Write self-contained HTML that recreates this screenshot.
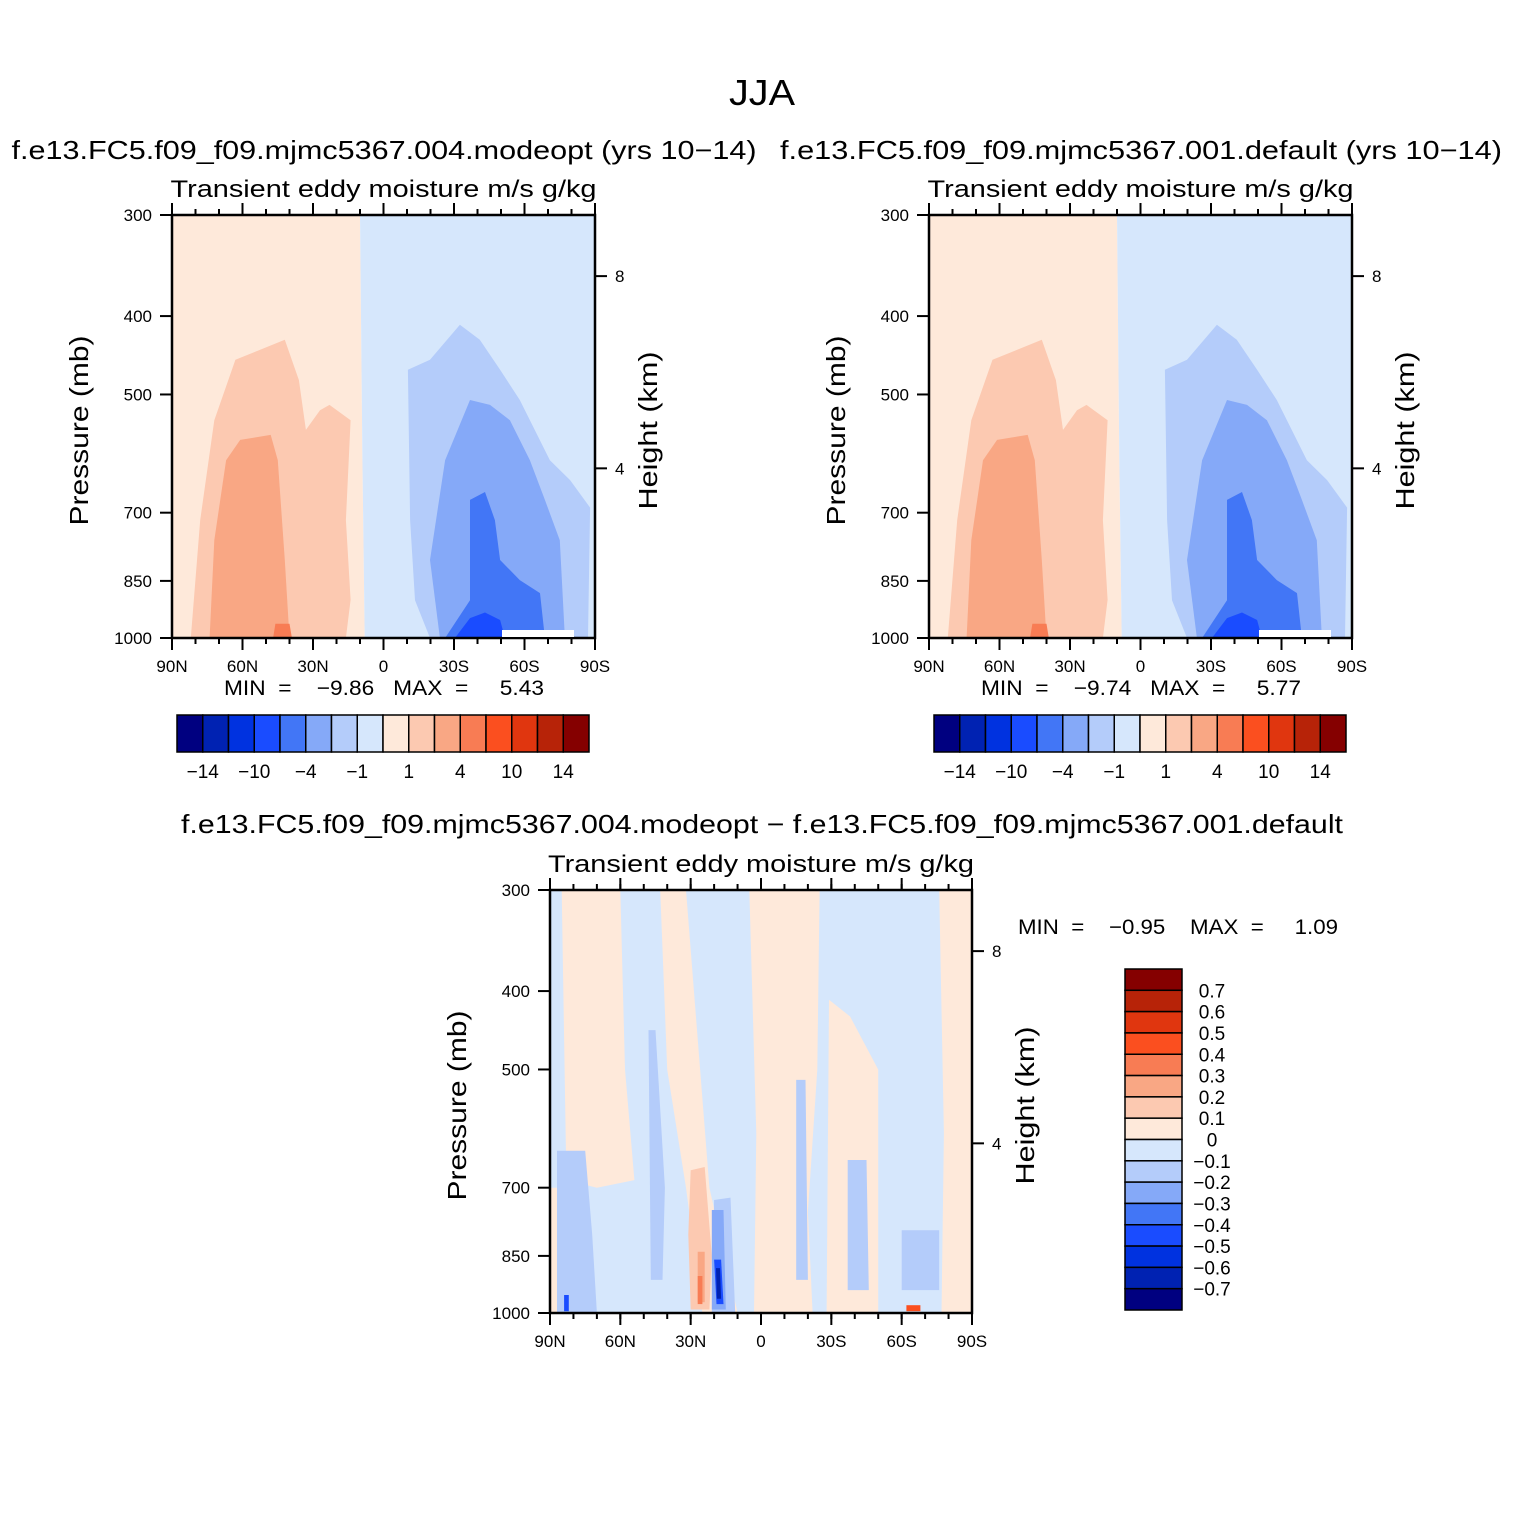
<!DOCTYPE html>
<html><head><meta charset="utf-8">
<style>
html,body{margin:0;padding:0;background:#fff;}
svg{display:block;font-family:"Liberation Sans",sans-serif;}
</style></head>
<body>
<svg id="fig" width="1524" height="1524" viewBox="0 0 1524 1524" xmlns="http://www.w3.org/2000/svg">
<rect width="1524" height="1524" fill="#fff"/>
<text x="762" y="105" font-size="36" text-anchor="middle" textLength="66" lengthAdjust="spacingAndGlyphs">JJA</text>
</svg>
<script>
// ---- data ----
const colors = ["#000080","#0022b2","#0032e0","#1a4cff","#4276f6","#85a9f8","#b4ccfa","#d6e7fc","#fee9da","#fcc9b1","#f9a784","#f87c54","#fb4f1f","#e0360f","#b72308","#850000"];
const hLabels = ["\u221214","\u221210","\u22124","\u22121","1","4","10","14"];
const vLabels = ["0.7","0.6","0.5","0.4","0.3","0.2","0.1","0","\u22120.1","\u22120.2","\u22120.3","\u22120.4","\u22120.5","\u22120.6","\u22120.7"];
const pTicks = [300,400,500,700,850,1000];
const latTicks = [90,60,30,0,-30,-60,-90];
const latLabels = ["90N","60N","30N","0","30S","60S","90S"];
const hTicks = [8,4];
const hTickP = [357,617];
// contour regions: [colorIndex, [[lat,p],...]]
const meanRegions = [
 [8, [[90,300],[10,300],[9,600],[8,1000],[90,1000]]],
 [7, [[10,300],[-90,300],[-90,1000],[8,1000],[9,600]]],
 [9, [[82,1000],[78,715],[72,538],[63,453],[42,428],[36,480],[33,553],[27,523],[23,515],[14,538],[16,715],[14,897],[16,1000]]],
 [10,[[74,1000],[72,757],[67,603],[61,569],[48,561],[45,603],[42,801],[40,1000]]],
 [11,[[47,1000],[46,960],[40,960],[39,1000]]],
 [6, [[-19.8,1000],[-13.4,898],[-11.3,715],[-10.4,466],[-19.8,453],[-32.5,410],[-41,428],[-49.6,466],[-58,508],[-70.8,603],[-79.4,638],[-87.9,690],[-87,1000]]],
 [5, [[-24,1000],[-19.8,801],[-26.2,603],[-36.8,508],[-45.3,515],[-53.8,538],[-62.3,603],[-68.7,675],[-75,757],[-77.2,1000]]],
 [4, [[-26.2,1000],[-36.8,898],[-36.8,675],[-43.2,660],[-47.4,715],[-49.6,801],[-58,848],[-66.6,880],[-68.7,1000]]],
 [3, [[-30.4,1000],[-36.8,945],[-43.2,930],[-49.6,950],[-51.7,1000]]]
];
const diffRegions = [
 [7, [[90,300],[-90,300],[-90,1000],[90,1000]]],
 [8, [[85,300],[60,300],[58,500],[54,685],[70,700],[83,685]]],
 [8, [[90,700],[84,700],[86,1000],[90,1000]]],
 [8, [[43,300],[32,300],[22,700],[10,1000],[25,1000],[32,700],[40,500]]],
 [8, [[5,300],[-25,300],[-24,500],[-20,750],[-22,1000],[3,1000],[2,600]]],
 [8, [[-29,410],[-38,430],[-50,500],[-50,1000],[-28,1000]]],
 [8, [[-76,300],[-90,300],[-90,1000],[-77,1000],[-78,600]]],
 [6, [[48,447],[45,447],[41,700],[42,910],[47,910]]],
 [6, [[87,630],[75,630],[72,800],[70,1000],[87,1000]]],
 [6, [[20,725],[13,720],[11,1000],[21,1000]]],
 [6, [[-15,515],[-19,515],[-20,910],[-15,910]]],
 [6, [[-37,647],[-45,647],[-46,937],[-37,937]]],
 [6, [[-60,790],[-76,790],[-76,937],[-60,937]]],
 [9, [[30,666],[24,660],[21,850],[22,990],[30,990],[31,800]]],
 [10,[[27,840],[24,840],[24,970],[27,970]]],
 [11,[[27,900],[25,900],[25,975],[27,975]]],
 [5, [[21,746],[16,746],[15,990],[21,990]]],
 [3, [[20,859],[17,859],[16,975],[19,975]]],
 [1, [[19.2,880],[17.5,880],[17,960],[18.8,960]]],
 [3, [[84,950],[82,950],[82,995],[84,995]]],
 [12,[[-62,978],[-68,978],[-68,995],[-62,995]]]
];
const meanStats = [["\u22129.86","5.43"],["\u22129.74","5.77"]];
const diffStats = ["\u22120.95","1.09"];

// ---- drawing ----
const NS="http://www.w3.org/2000/svg";
const svg=document.getElementById('fig');
function mk(tag,attrs,parent){const e=document.createElementNS(NS,tag);for(const k in attrs)e.setAttribute(k,attrs[k]);(parent||svg).appendChild(e);return e;}
function txt(s,x,y,size,anchor,parent,len){const a={x:x,y:y,'font-size':size,'text-anchor':anchor||'middle'};
  if(len){a.textLength=len;a.lengthAdjust='spacingAndGlyphs';}
  const t=mk('text',a,parent);t.textContent=s;return t;}

function panel(x0,y0,w,h,regions,tag){
  const g=mk('g',{});
  
  
  const X=lat=>x0+(90-lat)/180*w;
  const Y=p=>y0+h*(Math.log(p/300)/Math.log(1000/300));
  const clip=mk('clipPath',{id:'c'+tag},g);mk('rect',{x:x0,y:y0,width:w,height:h},clip);
  const cg=mk('g',{'clip-path':'url(#c'+tag+')'},g);
  regions.forEach((r,i)=>{
    const pth=mk('polygon',{points:r[1].map(q=>X(q[0]).toFixed(1)+','+Y(q[1]).toFixed(1)).join(' '),fill:colors[r[0]]},cg);
    
    
  });
  mk('rect',{x:x0,y:y0,width:w,height:h,fill:'none',stroke:'#000','stroke-width':2.5},g);
  latTicks.forEach((l,i)=>{
    const x=X(l);
    mk('line',{x1:x,x2:x,y1:y0+h,y2:y0+h+12,stroke:'#000','stroke-width':2},g);
    mk('line',{x1:x,x2:x,y1:y0,y2:y0-12,stroke:'#000','stroke-width':2},g);
    const t=txt(latLabels[i],x,y0+h+34,17,'middle',g);
    
  });
  for(let l=90;l>=-90;l-=10){const x=X(l);
    mk('line',{x1:x,x2:x,y1:y0+h,y2:y0+h+6,stroke:'#000','stroke-width':2},g);
    mk('line',{x1:x,x2:x,y1:y0,y2:y0-6,stroke:'#000','stroke-width':2},g);}
  pTicks.forEach(p=>{const y=Y(p);
    mk('line',{x1:x0-12,x2:x0,y1:y,y2:y,stroke:'#000','stroke-width':2},g);
    const t=txt(String(p),x0-20,y+6,17,'end',g);
    });
  hTicks.forEach((z,i)=>{const y=Y(hTickP[i]);
    mk('line',{x1:x0+w,x2:x0+w+12,y1:y,y2:y,stroke:'#000','stroke-width':2},g);
    const t=txt(String(z),x0+w+20,y+6,17,'start',g);
    });
  let t=txt('Pressure  (mb)',0,0,26,'middle',g,190);t.setAttribute('transform',`translate(${x0-84},${y0+h/2+4}) rotate(-90)`);
  
  t=txt('Height  (km)',0,0,26,'middle',g,158);t.setAttribute('transform',`translate(${x0+w+62},${y0+h/2+4}) rotate(-90)`);
  
  t=txt('Transient  eddy  moisture m/s  g/kg',x0+w/2,y0-18,24,'middle',g,426);
  
  return g;
}
function hbar(x0,y0,w,h,tag){
  const g=mk('g',{});
  const bw=w/colors.length;
  colors.forEach((c,i)=>{const r=mk('rect',{x:x0+i*bw,y:y0,width:bw,height:h,fill:c,stroke:'#000','stroke-width':1.5},g);
    });
  hLabels.forEach((s,i)=>{const t=txt(s,x0+bw*(1+2*i),y0+h+26,19,'middle',g);
    });
}
function vbar(x0,y0,w,h){
  const g=mk('g',{});
  const bh=h/colors.length;
  colors.slice().reverse().forEach((c,i)=>{const r=mk('rect',{x:x0,y:y0+i*bh,width:w,height:bh,fill:c,stroke:'#000','stroke-width':1.5},g);
    });
  vLabels.forEach((s,i)=>{const t=txt(s,x0+w+30,y0+bh*(i+1)+7,19,'middle',g);
    });
}
[[172,'f.e13.FC5.f09_f09.mjmc5367.004.modeopt  (yrs  10\u221214)',384,'left'],[929,'f.e13.FC5.f09_f09.mjmc5367.001.default  (yrs  10\u221214)',1141,'right']].forEach((d,i)=>{
  let t=txt(d[1],d[2],159,26,'middle',null,i===0?745:722);
  panel(d[0],215,423,423,meanRegions,d[3]);
  const wr=mk('rect',{x:d[0]+330,y:630,width:72,height:7,fill:'#fff'});
  
  t=txt('MIN  =    '+meanStats[i][0]+'   MAX  =     '+meanStats[i][1],d[0]+212,695,21,'middle',null,320);
  t.setAttribute('style','white-space:pre');
  
  hbar(d[0]+5,715,412,37,d[3]);
});
let t=txt('f.e13.FC5.f09_f09.mjmc5367.004.modeopt  \u2212  f.e13.FC5.f09_f09.mjmc5367.001.default',762,833,26,'middle',null,1162);

panel(550,890,422,423,diffRegions,'diff');
t=txt('MIN  =    '+diffStats[0]+'    MAX  =     '+diffStats[1],1178,934,21,'middle',null,320);
t.setAttribute('style','white-space:pre');

vbar(1125,969,57,341);
</script>
</body></html>
